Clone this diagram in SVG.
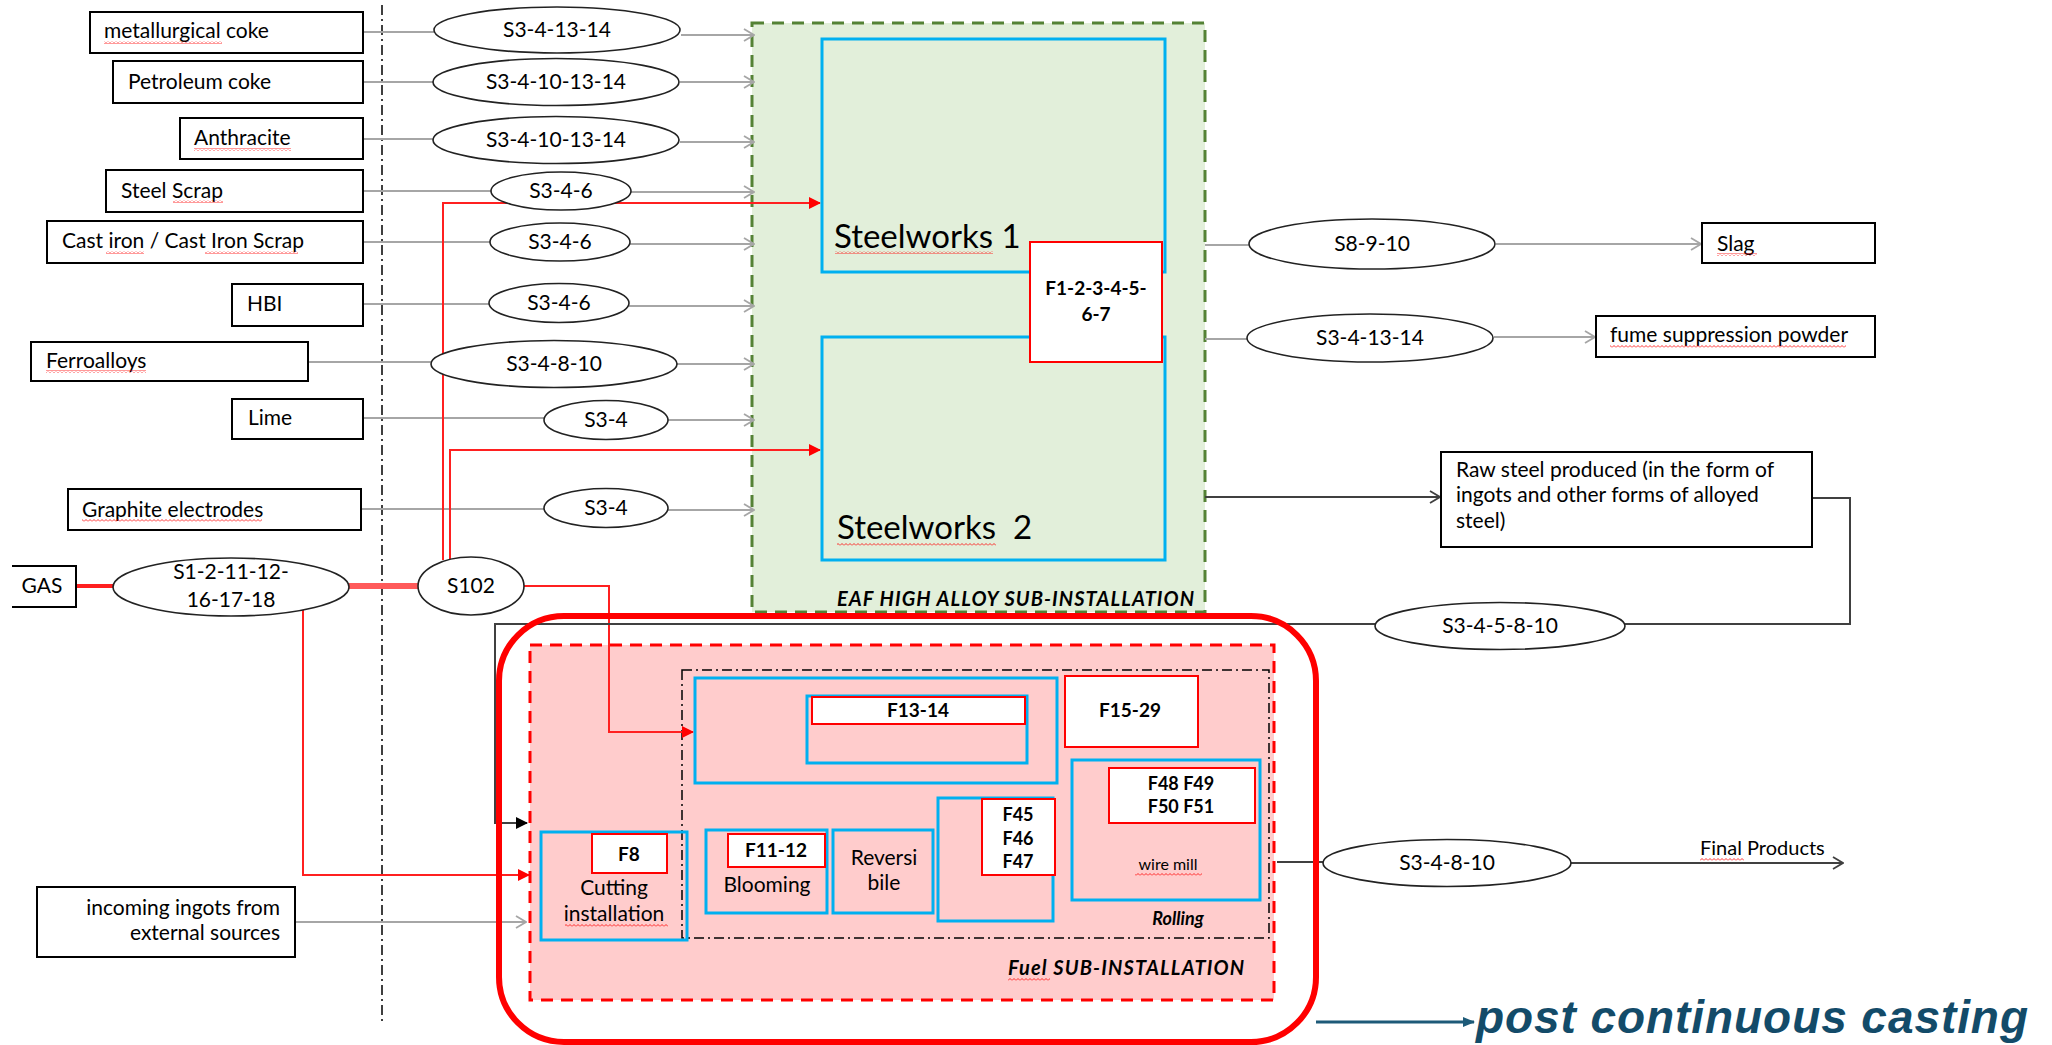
<svg xmlns="http://www.w3.org/2000/svg" width="2052" height="1045" viewBox="0 0 2052 1045">
  <style>
    .t { font-family: Lato, "Liberation Sans", sans-serif; font-size: 21px; fill: #000; }
    .c { text-anchor: middle; }
    .b { font-weight: bold; font-size: 19px; }
    .bi { font-weight: bold; font-style: italic; }
    .big { font-size: 33px; }
    .s18 { font-size: 18px; }
    .s16 { font-size: 16px; }
    .s20 { font-size: 20px; }
    .box { fill: #fff; stroke: #000; stroke-width: 2; }
    .ell { fill: #fff; stroke: #222; stroke-width: 1.6; }
    .blue { fill: none; stroke: #00b0f0; stroke-width: 3; }
    .rbox { fill: #fff; stroke: #ff0000; stroke-width: 2; }
    .gray { fill: none; stroke: #a6a6a6; stroke-width: 2; }
    .dark { fill: none; stroke: #404040; stroke-width: 2; }
    .red { fill: none; stroke: #ff2020; stroke-width: 2; }
    .sq { fill: url(#squiggle); }
  </style>
  <defs>
    <marker id="openGray" viewBox="0 0 12 14" refX="11" refY="7" markerWidth="12" markerHeight="14" markerUnits="userSpaceOnUse" orient="auto">
      <path d="M1,1 L11,7 L1,13" fill="none" stroke="#a6a6a6" stroke-width="1.8"/>
    </marker>
    <marker id="openDark" viewBox="0 0 12 14" refX="11" refY="7" markerWidth="12" markerHeight="14" markerUnits="userSpaceOnUse" orient="auto">
      <path d="M1,1 L11,7 L1,13" fill="none" stroke="#404040" stroke-width="1.8"/>
    </marker>
    <marker id="fillRed" viewBox="0 0 12 12" refX="11" refY="6" markerWidth="12" markerHeight="12" markerUnits="userSpaceOnUse" orient="auto">
      <path d="M0,0 L12,6 L0,12 z" fill="#ff0000"/>
    </marker>
    <marker id="fillBlack" viewBox="0 0 12 12" refX="11" refY="6" markerWidth="12" markerHeight="12" markerUnits="userSpaceOnUse" orient="auto">
      <path d="M0,0 L12,6 L0,12 z" fill="#000"/>
    </marker>
    <marker id="fillTeal" viewBox="0 0 12 12" refX="11" refY="6" markerWidth="12" markerHeight="12" markerUnits="userSpaceOnUse" orient="auto">
      <path d="M0,1 L12,6 L0,11 z" fill="#1d5a78"/>
    </marker>
    <pattern id="squiggle" width="4" height="3" patternUnits="userSpaceOnUse">
      <path d="M0,2.5 L2,0.5 L4,2.5" fill="none" stroke="#ff0000" stroke-width="0.8"/>
    </pattern>
  </defs>

  <rect width="2052" height="1045" fill="#fff"/>

  <!-- boundary between supply side and plant -->
  <line x1="382" y1="5" x2="382" y2="1023" stroke="#000" stroke-width="1.5" stroke-dasharray="10 4 2 4"/>

  <!-- EAF high alloy sub-installation -->
  <g id="eaf-subinstallation">
    <rect x="752" y="23" width="453" height="589" fill="#e2efda" stroke="#548235" stroke-width="3" stroke-dasharray="12 8"/>
    <text class="t bi s20" x="837" y="606" textLength="357">EAF HIGH ALLOY SUB-INSTALLATION</text>
  </g>

  <!-- fuel sub-installation -->
  <g id="fuel-subinstallation">
    <rect x="530" y="645" width="744" height="355" fill="#ffcccc" stroke="#ff0000" stroke-width="3" stroke-dasharray="12 8"/>
    <text class="t bi s20" x="1008" y="975" textLength="236">Fuel SUB-INSTALLATION</text>
    <rect class="sq" x="1008" y="978" width="42" height="3"/>
  </g>

  <!-- rolling area -->
  <g id="rolling">
    <rect x="682" y="670" width="587" height="268" fill="none" stroke="#000" stroke-width="1.5" stroke-dasharray="10 4 2 4"/>
    <text class="t bi c s18" x="1178" y="925">Rolling</text>
  </g>

  <g id="connectors">
    <!-- raw material inputs -->
    <line class="gray" x1="363" y1="32" x2="434" y2="32"/>
    <line class="gray" x1="681" y1="35" x2="754" y2="35" marker-end="url(#openGray)"/>
    <line class="gray" x1="363" y1="82" x2="433" y2="82"/>
    <line class="gray" x1="680" y1="82" x2="754" y2="82" marker-end="url(#openGray)"/>
    <line class="gray" x1="363" y1="139" x2="433" y2="139"/>
    <line class="gray" x1="680" y1="142" x2="754" y2="142" marker-end="url(#openGray)"/>
    <line class="gray" x1="363" y1="191" x2="491" y2="191"/>
    <line class="gray" x1="631" y1="192" x2="754" y2="192" marker-end="url(#openGray)"/>
    <line class="gray" x1="363" y1="242" x2="490" y2="242"/>
    <line class="gray" x1="630" y1="244" x2="754" y2="244" marker-end="url(#openGray)"/>
    <line class="gray" x1="363" y1="304" x2="489" y2="304"/>
    <line class="gray" x1="629" y1="306" x2="754" y2="306" marker-end="url(#openGray)"/>
    <line class="gray" x1="308" y1="362" x2="431" y2="362"/>
    <line class="gray" x1="677" y1="364" x2="754" y2="364" marker-end="url(#openGray)"/>
    <line class="gray" x1="363" y1="418" x2="544" y2="418"/>
    <line class="gray" x1="668" y1="420" x2="754" y2="420" marker-end="url(#openGray)"/>
    <line class="gray" x1="361" y1="509" x2="544" y2="509"/>
    <line class="gray" x1="668" y1="510" x2="754" y2="510" marker-end="url(#openGray)"/>

    <!-- gas supply -->
    <line x1="76" y1="586" x2="114" y2="586" stroke="#ff2020" stroke-width="4"/>
    <line x1="349" y1="586" x2="419" y2="586" stroke="#ff5a5a" stroke-width="6"/>
    <polyline class="red" points="443,560 443,203 820,203" marker-end="url(#fillRed)"/>
    <polyline class="red" points="450,560 450,450 820,450" marker-end="url(#fillRed)"/>
    <polyline class="red" points="524,586 609,586 609,732 693,732" marker-end="url(#fillRed)"/>
    <polyline class="red" points="303,610 303,875 529,875" marker-end="url(#fillRed)"/>

    <!-- external ingots -->
    <line class="gray" x1="295" y1="922" x2="526" y2="922" marker-end="url(#openGray)"/>

    <!-- outputs of the steelworks -->
    <line class="gray" x1="1205" y1="245" x2="1249" y2="245"/>
    <line class="gray" x1="1496" y1="244" x2="1701" y2="244" marker-end="url(#openGray)"/>
    <line class="gray" x1="1205" y1="339" x2="1247" y2="339"/>
    <line class="gray" x1="1494" y1="337" x2="1595" y2="337" marker-end="url(#openGray)"/>
    <line class="dark" x1="1205" y1="497" x2="1440" y2="497" marker-end="url(#openDark)"/>

    <!-- raw steel returned to the rolling area -->
    <polyline class="dark" points="1812,498 1850,498 1850,624 1625,624"/>
    <polyline class="dark" points="1375,624 495,624 495,823 527,823" marker-end="url(#fillBlack)"/>

    <!-- final products -->
    <line class="dark" x1="1277" y1="862" x2="1323" y2="862"/>
    <line class="dark" x1="1571" y1="863" x2="1843" y2="863" marker-end="url(#openDark)"/>
  </g>

  <!-- post continuous casting scope -->
  <g id="post-casting-frame">
    <rect x="499" y="616" width="817" height="426" rx="65" ry="65" fill="none" stroke="#ff0000" stroke-width="6"/>
    <line x1="1316" y1="1022" x2="1474" y2="1022" stroke="#1d5a78" stroke-width="3" marker-end="url(#fillTeal)"/>
    <text x="1476" y="1033" font-family="'Liberation Sans', Arial, sans-serif" font-size="46" font-weight="bold" font-style="italic" fill="#134b69" textLength="552">post continuous casting</text>
  </g>

  <!-- raw materials -->
  <g id="metallurgical-coke">
    <rect class="box" x="90" y="12" width="273" height="41"/>
    <text class="t" x="104" y="38">metallurgical coke</text>
    <rect class="sq" x="104" y="41" width="118" height="3"/>
  </g>
  <g id="petroleum-coke">
    <rect class="box" x="113" y="61" width="250" height="42"/>
    <text class="t" x="128" y="89">Petroleum coke</text>
  </g>
  <g id="anthracite">
    <rect class="box" x="180" y="118" width="183" height="41"/>
    <text class="t" x="194" y="145">Anthracite</text>
    <rect class="sq" x="194" y="148" width="97" height="3"/>
  </g>
  <g id="steel-scrap">
    <rect class="box" x="106" y="170" width="257" height="42"/>
    <text class="t" x="121" y="198">Steel Scrap</text>
    <rect class="sq" x="173" y="200" width="50" height="3"/>
  </g>
  <g id="cast-iron">
    <rect class="box" x="47" y="221" width="316" height="42"/>
    <text class="t" x="62" y="248">Cast iron / Cast Iron Scrap</text>
    <rect class="sq" x="106" y="251" width="38" height="3"/>
    <rect class="sq" x="205" y="251" width="93" height="3"/>
  </g>
  <g id="hbi">
    <rect class="box" x="232" y="284" width="131" height="42"/>
    <text class="t" x="247" y="311">HBI</text>
  </g>
  <g id="ferroalloys">
    <rect class="box" x="31" y="342" width="277" height="39"/>
    <text class="t" x="46" y="368">Ferroalloys</text>
    <rect class="sq" x="46" y="370" width="100" height="3"/>
  </g>
  <g id="lime">
    <rect class="box" x="232" y="399" width="131" height="40"/>
    <text class="t" x="248" y="425">Lime</text>
  </g>
  <g id="graphite-electrodes">
    <rect class="box" x="68" y="489" width="293" height="41"/>
    <text class="t" x="82" y="517">Graphite electrodes</text>
    <rect class="sq" x="82" y="519" width="180" height="3"/>
  </g>
  <g id="gas">
    <path d="M12,566 H76 V607 H12" fill="#fff" stroke="#000" stroke-width="2"/>
    <text class="t c" x="42" y="593">GAS</text>
  </g>
  <g id="incoming-ingots">
    <rect class="box" x="37" y="887" width="258" height="70"/>
    <text class="t" x="280" y="915" text-anchor="end">incoming ingots from</text>
    <text class="t" x="280" y="940" text-anchor="end">external sources</text>
  </g>

  <!-- input streams -->
  <g id="s-3-4-13-14-in">
    <ellipse class="ell" cx="557" cy="30" rx="123" ry="23"/>
    <text class="t c" x="557" y="37">S3-4-13-14</text>
  </g>
  <g id="s-3-4-10-13-14-a">
    <ellipse class="ell" cx="556" cy="82" rx="123" ry="23.5"/>
    <text class="t c" x="556" y="89">S3-4-10-13-14</text>
  </g>
  <g id="s-3-4-10-13-14-b">
    <ellipse class="ell" cx="556" cy="140" rx="123" ry="23.5"/>
    <text class="t c" x="556" y="147">S3-4-10-13-14</text>
  </g>
  <g id="s-3-4-6-a">
    <ellipse class="ell" cx="561" cy="191" rx="70" ry="19"/>
    <text class="t c" x="561" y="198">S3-4-6</text>
  </g>
  <g id="s-3-4-6-b">
    <ellipse class="ell" cx="560" cy="242" rx="70" ry="19"/>
    <text class="t c" x="560" y="249">S3-4-6</text>
  </g>
  <g id="s-3-4-6-c">
    <ellipse class="ell" cx="559" cy="303" rx="70" ry="19.5"/>
    <text class="t c" x="559" y="310">S3-4-6</text>
  </g>
  <g id="s-3-4-8-10-in">
    <ellipse class="ell" cx="554" cy="364" rx="123" ry="23.5"/>
    <text class="t c" x="554" y="371">S3-4-8-10</text>
  </g>
  <g id="s-3-4-a">
    <ellipse class="ell" cx="606" cy="420" rx="62" ry="19.5"/>
    <text class="t c" x="606" y="427">S3-4</text>
  </g>
  <g id="s-3-4-b">
    <ellipse class="ell" cx="606" cy="508" rx="62" ry="19.5"/>
    <text class="t c" x="606" y="515">S3-4</text>
  </g>
  <g id="s-gas">
    <ellipse class="ell" cx="231" cy="587" rx="118" ry="29"/>
    <text class="t c" x="231" y="579">S1-2-11-12-</text>
    <text class="t c" x="231" y="607">16-17-18</text>
  </g>
  <g id="s-102">
    <ellipse class="ell" cx="471" cy="586" rx="53" ry="29"/>
    <text class="t c" x="471" y="593">S102</text>
  </g>

  <!-- steelworks -->
  <g id="steelworks-1">
    <rect class="blue" x="822" y="39" width="343" height="233"/>
    <text class="t big" x="834" y="248">Steelworks 1</text>
    <rect class="sq" x="835" y="251" width="158" height="3"/>
  </g>
  <g id="steelworks-2">
    <rect class="blue" x="822" y="337" width="343" height="223"/>
    <text class="t big" x="837" y="539" xml:space="preserve">Steelworks  2</text>
    <rect class="sq" x="837" y="543" width="159" height="3"/>
  </g>
  <g id="f1-7">
    <rect class="rbox" x="1030" y="242" width="132" height="120"/>
    <text class="t b c" x="1096" y="295">F1-2-3-4-5-</text>
    <text class="t b c" x="1096" y="321">6-7</text>
  </g>

  <!-- outputs -->
  <g id="s-8-9-10">
    <ellipse class="ell" cx="1372" cy="244" rx="123" ry="25"/>
    <text class="t c" x="1372" y="251">S8-9-10</text>
  </g>
  <g id="slag">
    <rect class="box" x="1702" y="223" width="173" height="40"/>
    <text class="t" x="1717" y="251">Slag</text>
    <rect class="sq" x="1717" y="253" width="40" height="3"/>
  </g>
  <g id="s-3-4-13-14-out">
    <ellipse class="ell" cx="1370" cy="338" rx="123" ry="24"/>
    <text class="t c" x="1370" y="345">S3-4-13-14</text>
  </g>
  <g id="fume-suppression-powder">
    <rect class="box" x="1596" y="316" width="279" height="41"/>
    <text class="t" x="1610" y="342">fume suppression powder</text>
    <rect class="sq" x="1610" y="345" width="236" height="3"/>
  </g>
  <g id="raw-steel">
    <rect class="box" x="1441" y="452" width="371" height="95"/>
    <text class="t" x="1456" y="477">Raw steel produced (in the form of</text>
    <text class="t" x="1456" y="502">ingots and other forms of alloyed</text>
    <text class="t" x="1456" y="528">steel)</text>
  </g>
  <g id="s-3-4-5-8-10">
    <ellipse class="ell" cx="1500" cy="626" rx="125" ry="23.5"/>
    <text class="t c" x="1500" y="633">S3-4-5-8-10</text>
  </g>
  <g id="s-3-4-8-10-out">
    <ellipse class="ell" cx="1447" cy="863" rx="124" ry="23.5"/>
    <text class="t c" x="1447" y="870">S3-4-8-10</text>
  </g>
  <g id="final-products">
    <text class="t s20" x="1700" y="855">Final Products</text>
    <rect class="sq" x="1700" y="858" width="44" height="3"/>
  </g>

  <!-- post-casting units -->
  <g id="f13-14">
    <rect class="blue" x="695" y="678" width="362" height="105"/>
    <rect class="blue" x="807" y="696" width="220" height="67"/>
    <rect class="rbox" x="812" y="697" width="213" height="27"/>
    <text class="t b c" x="918" y="717">F13-14</text>
  </g>
  <g id="f15-29">
    <rect class="rbox" x="1065" y="676" width="133" height="71"/>
    <text class="t b c" x="1130" y="717">F15-29</text>
  </g>
  <g id="wire-mill">
    <rect class="blue" x="1072" y="760" width="188" height="140"/>
    <rect class="rbox" x="1109" y="768" width="146" height="55"/>
    <text class="t b c s18" x="1181" y="790">F48 F49</text>
    <text class="t b c s18" x="1181" y="813">F50 F51</text>
    <text class="t c s16" x="1168" y="870">wire mill</text>
    <rect class="sq" x="1135" y="873" width="67" height="3"/>
  </g>
  <g id="f45-47">
    <rect class="blue" x="938" y="798" width="115" height="123"/>
    <rect class="rbox" x="982" y="799" width="73" height="76"/>
    <text class="t b c s18" x="1018" y="821">F45</text>
    <text class="t b c s18" x="1018" y="845">F46</text>
    <text class="t b c s18" x="1018" y="868">F47</text>
  </g>
  <g id="reversibile">
    <rect class="blue" x="833" y="830" width="100" height="83"/>
    <text class="t c" x="884" y="865">Reversi</text>
    <text class="t c" x="884" y="890">bile</text>
  </g>
  <g id="blooming">
    <rect class="blue" x="706" y="830" width="121" height="83"/>
    <rect class="rbox" x="728" y="834" width="97" height="33"/>
    <text class="t b c" x="776" y="857">F11-12</text>
    <text class="t c" x="767" y="892">Blooming</text>
  </g>
  <g id="cutting">
    <rect class="blue" x="541" y="832" width="146" height="108"/>
    <rect class="rbox" x="592" y="834" width="75" height="39"/>
    <text class="t b c" x="629" y="861">F8</text>
    <text class="t c" x="614" y="895">Cutting</text>
    <text class="t c" x="614" y="921">installation</text>
    <rect class="sq" x="565" y="924" width="103" height="3"/>
  </g>
</svg>
